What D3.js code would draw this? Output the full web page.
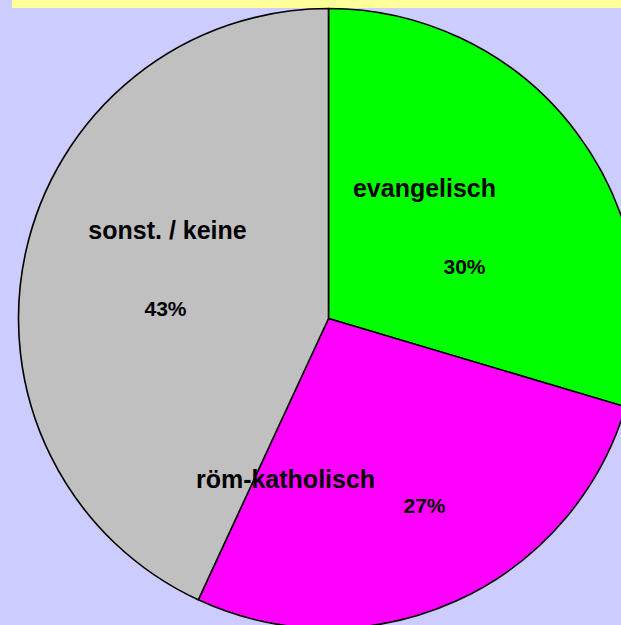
<!DOCTYPE html>
<html>
<head>
<meta charset="utf-8">
<title>Konfessionen</title>
<script src="https://d3js.org/d3.v7.min.js"></script>
<style>
  html, body { margin:0; padding:0; background:#ccccff; overflow:hidden; }
  svg { display:block; }
</style>
</head>
<body>
<svg id="chart" width="621" height="625"></svg>
<script>
  // data
  var categories = ["evangelisch", "röm-katholisch", "sonst. / keine"];
  var shares = [29.6, 27.3, 43.1];
  var percentLabels = ["30%", "27%", "43%"];
  var sliceColors = ["#00ff00", "#ff00ff", "#c0c0c0"];

  var width = 621, height = 625;
  var cx = 328.5, cy = 318.5, radius = 310;

  // label positions, relative to the pie centre
  var nameOffsets = [[96, -122], [-43, 169], [-161, -80]];
  var pctOffsets = [[136, -45], [96, 194], [-163, -3]];

  var svg = d3.select("#chart");

  svg.append("rect")
    .attr("width", width).attr("height", height)
    .attr("fill", "#ccccff");

  // yellow strip at the top
  svg.append("rect")
    .attr("x", 12).attr("y", 0)
    .attr("width", width - 12).attr("height", 8)
    .attr("fill", "#ffff99");

  var pie = d3.pie().sort(null).value(function(d) { return d; });
  var arc = d3.arc().innerRadius(0).outerRadius(radius);

  var g = svg.append("g").attr("transform", "translate(" + cx + "," + cy + ")");

  g.selectAll("path.slice")
    .data(pie(shares))
    .enter().append("path")
    .attr("class", "slice")
    .attr("d", arc)
    .attr("fill", function(d, i) { return sliceColors[i]; })
    .attr("stroke", "#000")
    .attr("stroke-width", 1.6)
    .attr("stroke-linejoin", "round");

  g.selectAll("text.name")
    .data(categories)
    .enter().append("text")
    .attr("class", "name")
    .attr("x", function(d, i) { return nameOffsets[i][0]; })
    .attr("y", function(d, i) { return nameOffsets[i][1]; })
    .attr("text-anchor", "middle")
    .style("font-family", "'Liberation Sans', Arial, sans-serif")
    .style("font-weight", "bold")
    .style("font-size", "25px")
    .text(function(d) { return d; });

  g.selectAll("text.pct")
    .data(percentLabels)
    .enter().append("text")
    .attr("class", "pct")
    .attr("x", function(d, i) { return pctOffsets[i][0]; })
    .attr("y", function(d, i) { return pctOffsets[i][1]; })
    .attr("text-anchor", "middle")
    .style("font-family", "'Liberation Sans', Arial, sans-serif")
    .style("font-weight", "bold")
    .style("font-size", "21px")
    .text(function(d) { return d; });
</script>
</body>
</html>
